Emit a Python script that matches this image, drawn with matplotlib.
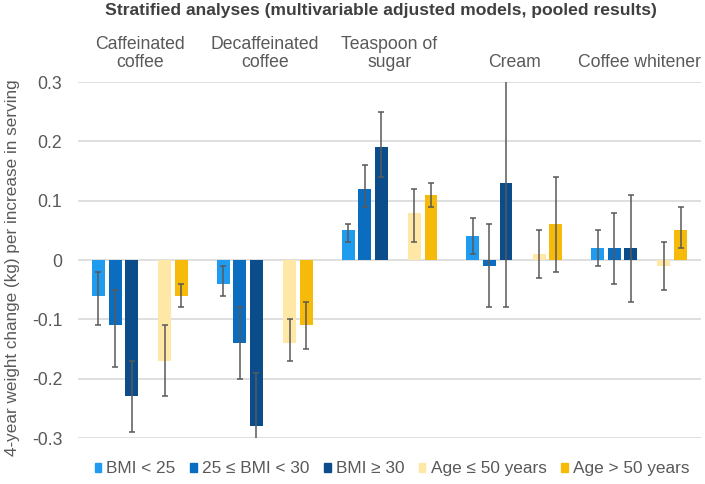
import matplotlib.pyplot as plt
import numpy as np
from matplotlib.patches import Patch

plt.rcParams['font.family'] = ['Liberation Sans', 'DejaVu Sans']

categories = ["Caffeinated\ncoffee", "Decaffeinated\ncoffee", "Teaspoon of\nsugar", "Cream", "Coffee whitener"]
series = ["BMI < 25", "25 \u2264 BMI < 30", "BMI \u2265 30", "Age \u2264 50 years", "Age > 50 years"]
colors = ["#1F9BF0", "#0A6DBF", "#0B4D8A", "#FFE8A6", "#F5BA0A"]

# estimate, lower CI, upper CI per series (one value per category)
bmi_lt25 = [-0.06, -0.04, 0.05, 0.04, 0.02]
bmi_lt25_lo = [-0.11, -0.06, 0.03, 0.01, -0.01]
bmi_lt25_hi = [-0.02, -0.01, 0.06, 0.07, 0.05]

bmi_25_30 = [-0.11, -0.14, 0.12, -0.01, 0.02]
bmi_25_30_lo = [-0.18, -0.20, 0.09, -0.08, -0.04]
bmi_25_30_hi = [-0.05, -0.08, 0.16, 0.06, 0.08]

bmi_ge30 = [-0.23, -0.28, 0.19, 0.13, 0.02]
bmi_ge30_lo = [-0.29, -0.31, 0.14, -0.08, -0.07]
bmi_ge30_hi = [-0.17, -0.19, 0.25, 0.34, 0.11]

age_le50 = [-0.17, -0.14, 0.08, 0.01, -0.01]
age_le50_lo = [-0.23, -0.17, 0.03, -0.03, -0.05]
age_le50_hi = [-0.11, -0.10, 0.12, 0.05, 0.03]

age_gt50 = [-0.06, -0.11, 0.11, 0.06, 0.05]
age_gt50_lo = [-0.08, -0.15, 0.09, -0.02, 0.02]
age_gt50_hi = [-0.04, -0.07, 0.13, 0.14, 0.09]

values = [bmi_lt25, bmi_25_30, bmi_ge30, age_le50, age_gt50]
lows = [bmi_lt25_lo, bmi_25_30_lo, bmi_ge30_lo, age_le50_lo, age_gt50_lo]
highs = [bmi_lt25_hi, bmi_25_30_hi, bmi_ge30_hi, age_le50_hi, age_gt50_hi]

yticks = [0.3, 0.2, 0.1, 0, -0.1, -0.2, -0.3]
ytick_labels = ["0.3", "0.2", "0.1", "0", "-0.1", "-0.2", "-0.3"]

fs = 12.7
grey = "#595959"

fig = plt.figure(figsize=(7.05, 4.84), dpi=100)
ax = fig.add_axes([0.11, 0.095, 0.885, 0.7355])

x = np.arange(len(categories))
slot = 0.133
slots = [0, 1, 2, 4, 5]  # empty slot between BMI and age groups
width = 0.104

for s, vals, lo, hi, col in zip(slots, values, lows, highs, colors):
    vals = np.array(vals)
    pos = x + (s - 2.5) * slot
    ax.bar(pos, vals, width, color=col, zorder=2)
    err = [vals - np.array(lo), np.array(hi) - vals]
    ax.errorbar(pos, vals, yerr=err, fmt="none", ecolor=grey,
                elinewidth=1.1, capsize=2.3, capthick=1.1, zorder=3)

ax.set_xlim(-0.5, 4.5)
ax.set_ylim(-0.3, 0.3)
ax.set_yticks(yticks)
ax.set_yticklabels(ytick_labels)
ax.set_xticks([])
ax.yaxis.grid(True, color="#D9D9D9", linewidth=1.2, zorder=0)
ax.set_axisbelow(True)
for sp in ax.spines.values():
    sp.set_visible(False)
ax.tick_params(axis="y", length=0, labelsize=fs, labelcolor=grey, pad=11)

for xi, cat in zip(x, categories):
    ax.text(xi, 0.319, cat, ha="center", va="bottom", fontsize=fs,
            color=grey, linespacing=1.08)

fig.text(0.54, 0.979, "Stratified analyses (multivariable adjusted models, pooled results)",
         ha="center", va="center", fontsize=12.6, fontweight="bold", color="#404040")

fig.text(0.018, 1 - 268 / 484, "4-year weight change (kg) per increase in serving",
         rotation=90, ha="center", va="center", fontsize=12.3, color=grey)

handles = [Patch(color=c, label=l) for c, l in zip(colors, series)]
fig.legend(handles=handles, loc="center", bbox_to_anchor=(0.556, 0.031), ncol=5,
           frameon=False, fontsize=12.4, handlelength=0.38, handleheight=0.38,
           handletextpad=0.3, columnspacing=0.85, labelcolor=grey,
           borderpad=0, borderaxespad=0)

fig.savefig("out.png", dpi=100)
